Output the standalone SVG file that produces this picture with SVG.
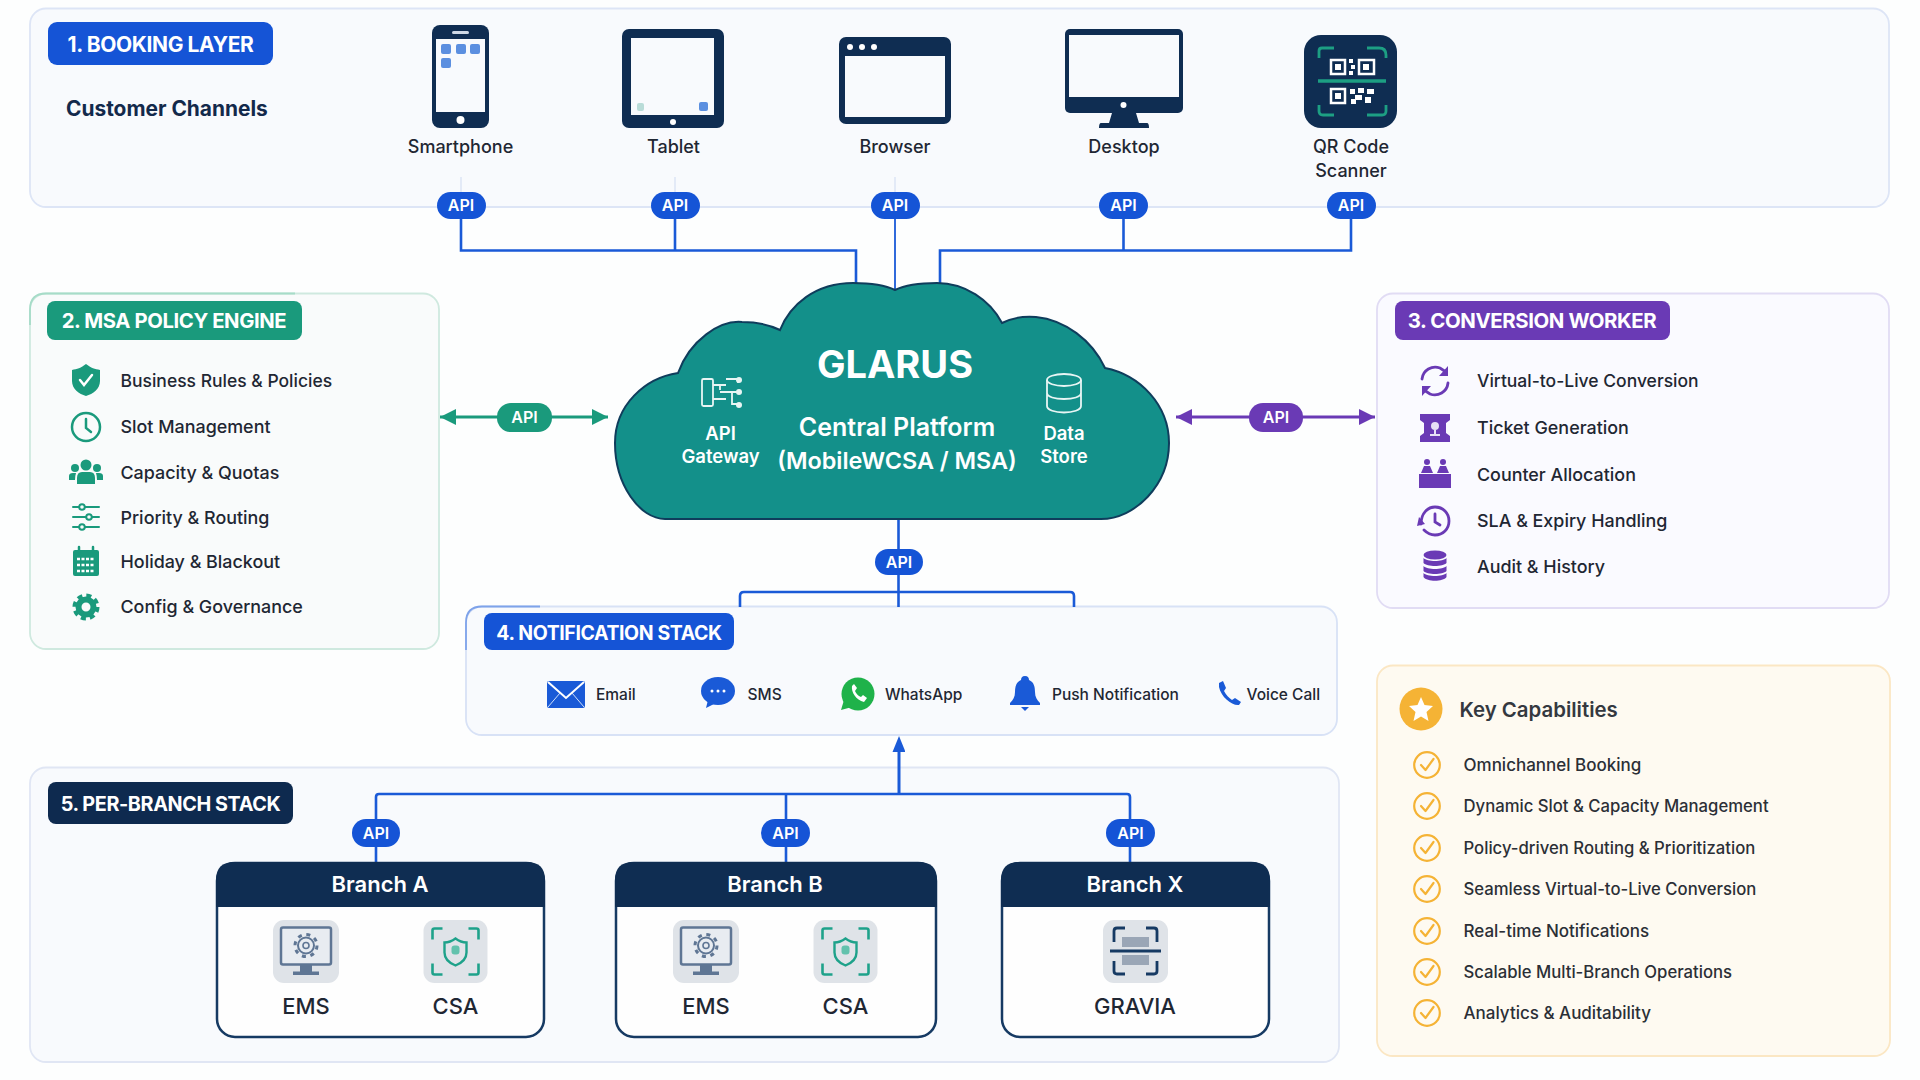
<svg xmlns="http://www.w3.org/2000/svg" xmlns:xlink="http://www.w3.org/1999/xlink" width="1920" height="1080" viewBox="0 0 1920 1080">
<style>
text{font-family:"Inter","Liberation Sans",sans-serif;fill:#1f2733;font-weight:500}
.c{text-anchor:middle}
.tag{font-size:21px;font-weight:700;fill:#fff;text-anchor:middle;letter-spacing:-.4px}
.api{font-size:16px;font-weight:600;fill:#fff;text-anchor:middle}
.ch{font-size:18px;text-anchor:middle}
.it{font-size:17.9px}
.nt{font-size:15.5px}
.kc{font-size:17px;fill:#2b2f36}
.kn{font-size:16.7px;fill:#2b2f36}
.br{font-size:22px;font-weight:600;fill:#fff;text-anchor:middle}
.sv{font-size:22px;text-anchor:middle}
.cw{fill:#fff;text-anchor:middle}
.panel{stroke-width:1.8}
.conn{fill:none;stroke:#1a5ad7;stroke-width:2.6}
.nv{fill:#0f2d52}
.g{fill:#1a9a7c}
.p{fill:#6a3ab5}
.gs{fill:none;stroke:#1a9a7c;stroke-width:2.5;stroke-linecap:round}
.ps{fill:none;stroke:#6a3ab5;stroke-width:2.8;stroke-linecap:round}
.ws{fill:none;stroke:#fff;stroke-width:2;stroke-linecap:round}
</style>
<defs>
<marker id="ah" markerWidth="14" markerHeight="17" refX="8.500" refY="16" orient="0" markerUnits="userSpaceOnUse"><path d="M2 16L8.500 0L15 16Z" transform="translate(0 0)" fill="#1a5ad7"/></marker>
<marker id="ag" markerWidth="16" markerHeight="16" refX="16" refY="8" orient="auto-start-reverse" markerUnits="userSpaceOnUse"><path d="M0 0L16 8L0 16Z" fill="#1a9a7c"/></marker>
<marker id="ap" markerWidth="16" markerHeight="16" refX="16" refY="8" orient="auto-start-reverse" markerUnits="userSpaceOnUse"><path d="M0 0L16 8L0 16Z" fill="#6a3ab5"/></marker>
<g id="ems">
<rect x="-33" y="-31.500" width="66" height="63" rx="11" fill="#dfe3e8"/>
<rect x="-25" y="-24" width="50" height="37" rx="2" fill="#e8ecf1" stroke="#5f7694" stroke-width="2.500"/>
<rect x="-6" y="13" width="12" height="8" fill="#5f7694"/>
<rect x="-13" y="20" width="26" height="3.500" fill="#5f7694"/>
<circle r="8" cy="-6" fill="none" stroke="#5f7694" stroke-width="2"/>
<circle r="11" cy="-6" fill="none" stroke="#5f7694" stroke-width="3" stroke-dasharray="4 4.640"/>
<circle r="3" cy="-6" fill="none" stroke="#5f7694" stroke-width="1.600"/>
</g>
<g id="csa">
<rect x="-32" y="-31.500" width="64" height="63" rx="11" fill="#dfe3e8"/>
<path d="M-23 -12V-21Q-23 -23 -21 -23H-13M13 -23H21Q23 -23 23 -21V-12M23 12V21Q23 23 21 23H13M-13 23H-21Q-23 23 -23 21V12" fill="none" stroke="#1ea28a" stroke-width="2.600"/>
<path d="M0 -13C-4 -10 -7 -9 -11 -9V1C-11 8 -5 12 0 14C5 12 11 8 11 1V-9C7 -9 4 -10 0 -13Z" fill="none" stroke="#1ea28a" stroke-width="2.400"/>
<rect x="-4" y="-6" width="8" height="9" rx="3" fill="#62c2ad"/>
</g>
<g id="chk"><circle r="12.800" fill="none" stroke="#f5b335" stroke-width="2.200"/><path d="M-6 0L-1.500 5L6.500 -6" fill="none" stroke="#f5b335" stroke-width="2.200" stroke-linecap="round" stroke-linejoin="round"/></g>
</defs>
<rect width="1920" height="1080" fill="#fdfefe"/>

<g id="panels">
<rect class="panel" x="30" y="8.500" width="1859" height="198.500" rx="16" fill="#f8fafd" stroke="#dde5f6"/>
<rect class="panel" x="30" y="293.500" width="409" height="355.500" rx="16" fill="#f9fbfb" stroke="#cfe9df"/>
<rect class="panel" x="1377" y="293.500" width="512" height="314.500" rx="16" fill="#fafaff" stroke="#e1dcf4"/>
<rect class="panel" x="466" y="606.500" width="871" height="128.500" rx="16" fill="#f8fafd" stroke="#d8e2f6"/>
<rect class="panel" x="30" y="767.500" width="1309" height="294.500" rx="16" fill="#f8fafd" stroke="#e0e6f4"/>
<rect class="panel" x="1377" y="665.500" width="513" height="390.500" rx="16" fill="#fefaf1" stroke="#fbe7c4"/>
<path d="M30 325V309.500Q30 293.500 46 293.500H295" fill="none" stroke="#a6dcc8" stroke-width="1.800"/>
<path d="M466 650V622.500Q466 606.500 482 606.500H540" fill="none" stroke="#7ea3ea" stroke-width="1.800"/>
</g>

<g id="connectors">
<path d="M461 177V192M675 177V192M895 177V192" stroke="#d6e0f4" stroke-width="1.200" fill="none"/>
<path class="conn" d="M461 219V250.500H856V292"/>
<path class="conn" d="M675 219V250.500"/>
<path class="conn" d="M895 219V292" style="stroke-width:1.800"/>
<path class="conn" d="M1351 219V250.500H940V292"/>
<path class="conn" d="M1123.500 219V250.500"/>
<path d="M440 417H608" fill="none" stroke="#1a9a7c" stroke-width="3" marker-start="url(#ag)" marker-end="url(#ag)"/>
<path d="M1176 417H1375" fill="none" stroke="#6a3ab5" stroke-width="3" marker-start="url(#ap)" marker-end="url(#ap)"/>
<path class="conn" d="M898.500 518V607"/>
<path class="conn" d="M740 607V596Q740 592 744 592H1070Q1074 592 1074 596V607"/>
<path class="conn" d="M899 794V752" marker-end="url(#ah)" style="stroke-width:3"/>
<path class="conn" d="M376 862V797Q376 794 379 794H1127Q1130 794 1130 797V862"/>
<path class="conn" d="M786 794V862"/>
</g>

<g id="booking-layer">
<rect x="48" y="22" width="225" height="43" rx="9" fill="#1554d6"/>
<text class="tag" x="160.500" y="52">1. BOOKING LAYER</text>
<text x="66" y="116" style="font-size:20.900px;font-weight:700;fill:#13294b">Customer Channels</text>
</g>

<g id="smartphone">
<rect x="432" y="25" width="57" height="103" rx="8" class="nv"/>
<rect x="436" y="39" width="49" height="73" fill="#f8fafd"/>
<rect x="452" y="31" width="17" height="3" rx="1.500" fill="#cfd8e6"/>
<circle cx="460.500" cy="120" r="4" fill="#fff"/>
<g fill="#5b8fe0"><rect x="441" y="44" width="10" height="10" rx="2"/><rect x="456" y="44" width="10" height="10" rx="2"/><rect x="470" y="44" width="10" height="10" rx="2"/><rect x="441" y="58" width="10" height="10" rx="2"/></g>
<text class="ch" x="460.500" y="153">Smartphone</text>
</g>
<g id="tablet">
<rect x="622" y="29" width="102" height="99" rx="7" class="nv"/>
<rect x="631" y="38" width="83" height="77" fill="#f8fafd"/>
<circle cx="673" cy="122" r="3" fill="#fff"/>
<rect x="637" y="103" width="7" height="8" rx="2" fill="#b9dcd8"/>
<rect x="699" y="102" width="9" height="9" rx="2" fill="#5b8fe0"/>
<text class="ch" x="673.500" y="153">Tablet</text>
</g>
<g id="browser">
<rect x="839" y="37" width="112" height="87" rx="7" class="nv"/>
<rect x="845" y="56" width="100" height="61" fill="#f8fafd"/>
<g fill="#fff"><circle cx="850" cy="47" r="3"/><circle cx="862" cy="47" r="3"/><circle cx="874" cy="47" r="3"/></g>
<text class="ch" x="895" y="153">Browser</text>
</g>
<g id="desktop">
<rect x="1065" y="29" width="118" height="84" rx="5" class="nv"/>
<rect x="1069" y="35" width="110" height="62" fill="#f8fafd"/>
<circle cx="1123.500" cy="105" r="3" fill="#fff"/>
<path d="M1112 113H1136L1139 123H1147Q1149 123 1149 128H1099Q1099 123 1101 123H1109Z" class="nv"/>
<text class="ch" x="1124" y="153">Desktop</text>
</g>
<g id="qr-code-scanner">
<rect x="1304" y="35" width="93" height="93" rx="17" class="nv"/>
<path d="M1319 58V51Q1319 48 1322 48H1334M1367 48H1379Q1386 48 1386 55V58M1386 105V111Q1386 115 1382 115H1367M1334 115H1323Q1319 115 1319 111V105" fill="none" stroke="#1d9f83" stroke-width="2.800"/>
<path d="M1318 81H1386" stroke="#1d9f83" stroke-width="3.500"/>
<g fill="none" stroke="#fff" stroke-width="2.500"><rect x="1331" y="60" width="14" height="14"/><rect x="1359" y="60" width="15" height="14"/><rect x="1331" y="89" width="14" height="14"/></g>
<g fill="#fff"><rect x="1335" y="64" width="6" height="6"/><rect x="1363" y="64" width="6" height="6"/><rect x="1335" y="93" width="6" height="6"/>
<rect x="1349" y="59" width="4" height="4"/><rect x="1351" y="65" width="4" height="4"/><rect x="1349" y="71" width="4" height="4"/>
<rect x="1350" y="89" width="5" height="5"/><rect x="1358" y="88" width="6" height="5"/><rect x="1367" y="89" width="7" height="5"/><rect x="1355" y="95" width="7" height="5"/><rect x="1365" y="97" width="6" height="6"/><rect x="1351" y="99" width="5" height="5"/></g>
<text class="ch" x="1351" y="153">QR Code</text>
<text class="ch" x="1351" y="177">Scanner</text>
</g>

<g id="msa-policy-engine">
<rect x="47" y="301" width="255" height="39" rx="8" class="g"/>
<text class="tag" x="174" y="328" style="font-size:20.300px">2. MSA POLICY ENGINE</text>
<g transform="translate(86 380)"><path class="g" d="M0 -16C-5 -12 -9 -11 -14 -10V1C-14 9 -7 14 0 16C7 14 14 9 14 1V-10C9 -11 5 -12 0 -16Z"/><path class="ws" style="stroke-width:2.500" d="M-6 0L-2 5L6 -5"/></g>
<text class="it" x="120.500" y="387" style="font-size:17.500px">Business Rules &amp; Policies</text>
<g transform="translate(86 427)"><circle r="14" class="gs"/><path class="gs" d="M0 -8V1L5 5"/></g>
<text class="it" x="120.500" y="433">Slot Management</text>
<g transform="translate(86 473)" class="g"><circle cy="-8" r="5.500"/><circle cx="-11" cy="-5" r="4"/><circle cx="11" cy="-5" r="4"/><path d="M-9 11V5Q-9 -1 -4 -1H4Q9 -1 9 5V11Z"/><path d="M-17 7V3Q-17 0 -13 0H-10Q-11 3 -11 7ZM17 7V3Q17 0 13 0H10Q11 3 11 7Z"/></g>
<text class="it" x="120.500" y="479">Capacity &amp; Quotas</text>
<g transform="translate(86 517)"><path class="gs" style="stroke-width:2" d="M-13 -10H13M-13 0H13M-13 10H13"/><g fill="#f9fbfb" stroke="#1a9a7c" stroke-width="2"><circle cx="-4" cy="-10" r="2.800"/><circle cx="3" r="2.800"/><circle cx="-4" cy="10" r="2.800"/></g></g>
<text class="it" x="120.500" y="524">Priority &amp; Routing</text>
<g transform="translate(86 562)"><rect x="-13" y="-12" width="26" height="26" rx="2" class="g"/><path d="M-7 -15V-10M7 -15V-10" class="gs"/><path d="M-9 -3H9M-9 3H9M-9 9H9" stroke="#fff" stroke-width="2.500" stroke-dasharray="3 1.500"/></g>
<text class="it" x="120.500" y="568">Holiday &amp; Blackout</text>
<g transform="translate(86 607)" fill="none" stroke="#1a9a7c"><circle r="7.500" stroke-width="6"/><circle r="11.500" stroke-width="4" stroke-dasharray="5 4.030"/></g>
<text class="it" x="120.500" y="613">Config &amp; Governance</text>
<rect x="497" y="403" width="55" height="29" rx="14" class="g"/>
<text class="api" x="524.500" y="423">API</text>
</g>

<g id="glarus-central-platform">
<path d="M678 373C690 340 720 320 742 322C755 322 770 325 780 330C790 305 815 283 853 283C870 283 885 285 895 290C905 285 920 283 937 283C965 283 990 300 1002 323C1012 318 1025 316 1036 317C1065 320 1092 340 1105 368C1140 375 1169 405 1169 443C1169 485 1135 519 1101 519H665C640 519 615 485 615 443C615 405 645 378 678 373Z" fill="#13908a" stroke="#0f3d5c" stroke-width="2"/>
<text class="cw" x="895" y="378" style="font-size:38px;font-weight:700">GLARUS</text>
<text class="cw" x="897" y="436" style="font-size:25px;font-weight:600">Central Platform</text>
<text class="cw" x="897" y="469" style="font-size:23.400px;font-weight:600">(MobileWCSA / MSA)</text>
<text class="cw" x="720.500" y="440" style="font-size:18.500px;font-weight:600">API</text>
<text class="cw" x="720.500" y="463" style="font-size:18.500px;font-weight:600">Gateway</text>
<text class="cw" x="1064" y="440" style="font-size:18.500px;font-weight:600">Data</text>
<text class="cw" x="1064" y="463" style="font-size:18.500px;font-weight:600">Store</text>
<g id="api-gateway-icon" fill="none" stroke="#e8f5f4" stroke-width="1.800"><rect x="702" y="379" width="11" height="27" rx="1.500"/><path d="M713 385H726M720 385V390M713 399H726M720 392H726M726 392H733M726 379H738V383M738 392H722M732 392V404H738"/><g fill="#e8f5f4" stroke="none"><circle cx="739" cy="380" r="3"/><circle cx="739" cy="392" r="3"/><circle cx="739" cy="405" r="3"/></g></g>
<g id="data-store-icon" fill="none" stroke="#e8f5f4" stroke-width="1.800"><ellipse cx="1064" cy="380" rx="17" ry="6"/><path d="M1047 380V406C1047 410 1055 412.500 1064 412.500C1073 412.500 1081 410 1081 406V380M1047 393C1047 397 1055 399 1064 399C1073 399 1081 397 1081 393"/></g>
</g>

<g id="conversion-worker">
<rect x="1395" y="301" width="275" height="39" rx="8" class="p"/>
<text class="tag" x="1532" y="328" style="font-size:20.400px">3. CONVERSION WORKER</text>
<g transform="translate(1435 381)"><path class="ps" d="M-13 -2C-12 -11 -3 -16 5 -13L11 -9M13 2C12 11 3 16 -5 13L-11 9"/><path class="p" d="M13 -15V-5H4ZM-13 15V5H-4Z"/></g>
<text class="it" x="1477" y="387" style="font-size:17.500px">Virtual-to-Live Conversion</text>
<g transform="translate(1435 428)"><path class="p" d="M-15 -14H15V-8L11 -5V5L15 8V14H-15V8L-11 5V-5L-15 -8Z"/><circle cy="-2" r="4" fill="#e7e0f5"/><path d="M-5 7H5M0 2V8" stroke="#e7e0f5" stroke-width="2"/></g>
<text class="it" x="1477" y="434">Ticket Generation</text>
<g transform="translate(1435 474)" class="p"><circle cx="-8" cy="-12" r="3"/><circle cx="8" cy="-12" r="3"/><path d="M-14 -1L-11 -8H-5L-2 -1ZM2 -1L5 -8H11L14 -1Z"/><rect x="-16" y="0" width="32" height="14"/></g>
<text class="it" x="1477" y="481">Counter Allocation</text>
<g transform="translate(1435 521)"><path class="ps" d="M-14 3C-14 -8 -7 -14 0 -14C8 -14 14 -8 14 0C14 8 8 14 0 14C-5 14 -8 12 -11 9"/><path class="ps" d="M0 -7V1L5 4"/><path class="p" d="M-16 -4L-10 3L-18 5Z"/></g>
<text class="it" x="1477" y="527">SLA &amp; Expiry Handling</text>
<g transform="translate(1435 566)" class="p"><ellipse cy="-11" rx="11.500" ry="4.500"/><path d="M-11.500 -8C-8 -4 8 -4 11.500 -8V-3C8 1 -8 1 -11.500 -3ZM-11.500 0C-8 4 8 4 11.500 0V5C8 9 -8 9 -11.500 5ZM-11.500 7C-8 11 8 11 11.500 7V11C8 16 -8 16 -11.500 11Z"/></g>
<text class="it" x="1477" y="573">Audit &amp; History</text>
<rect x="1249" y="403" width="54" height="29" rx="14" class="p"/>
<text class="api" x="1276" y="423">API</text>
</g>

<g id="notification-stack">
<rect x="484" y="613" width="250" height="37" rx="8" fill="#1554d6"/>
<text class="tag" x="609" y="640" style="font-size:19.500px">4. NOTIFICATION STACK</text>
<g id="email"><rect x="547" y="681" width="38" height="27" rx="2" fill="#1a5ad7"/><path d="M548 682L566 698L584 682" fill="none" stroke="#fff" stroke-width="2"/><path d="M548 707L560 693M584 707L572 693" fill="none" stroke="#cfe0fb" stroke-width="1"/><text class="nt" x="596" y="699.500">Email</text></g>
<g id="sms"><ellipse cx="718" cy="691" rx="17" ry="14" fill="#1a5ad7"/><path d="M708 700L706 708L716 703Z" fill="#1a5ad7"/><g fill="#fff"><circle cx="712" cy="691" r="1.500"/><circle cx="718" cy="691" r="1.500"/><circle cx="724" cy="691" r="1.500"/></g><text class="nt" x="747.500" y="699.500">SMS</text></g>
<g id="whatsapp"><circle cx="858" cy="694" r="16.500" fill="#1fb24a"/><path d="M844 700L841 710L852 707Z" fill="#1fb24a"/><path d="M852 686C851 692 856 700 864 702L867 698L863 695L861 697C858 696 856 693 855 691L857 688L854 684Z" fill="#fff"/><text class="nt" x="885" y="699.500">WhatsApp</text></g>
<g id="push-notification"><path d="M1025 676C1028 676 1029 678 1029 680C1034 682 1035 687 1035 692C1035 697 1037 700 1040 703V705H1010V703C1013 700 1015 697 1015 692C1015 687 1016 682 1021 680C1021 678 1022 676 1025 676Z" fill="#1a5ad7"/><path d="M1021 707H1029L1025 711Z" fill="#1a5ad7"/><text class="nt" x="1052" y="699.500">Push Notification</text></g>
<g id="voice-call"><path d="M1219 683L1223 681L1226 688L1224 691C1226 695 1229 698 1232 700L1235 698L1241 702L1239 705C1232 706 1221 697 1219 687Z" fill="#1a5ad7"/><text class="nt" x="1246.500" y="699.500">Voice Call</text></g>
</g>

<g id="per-branch-stack">
<rect x="48" y="782" width="245" height="42" rx="8" fill="#0e2a4f"/>
<text class="tag" x="170.500" y="811" style="font-size:19.800px">5. PER-BRANCH STACK</text>
</g>
<g id="branch-a">
<rect x="217" y="863" width="327" height="174" rx="18" fill="#fefefe" stroke="#163a63" stroke-width="2.500"/>
<path d="M216 907V880Q216 862 234 862H527Q545 862 545 880V907Z" class="nv"/>
<text class="br" x="380" y="892">Branch A</text>
<use xlink:href="#ems" href="#ems" x="306" y="951.500"/><use xlink:href="#csa" href="#csa" x="455.500" y="951.500"/>
<text class="sv" x="306" y="1014">EMS</text><text class="sv" x="455.500" y="1014">CSA</text>
</g>
<g id="branch-b">
<rect x="616" y="863" width="320" height="174" rx="18" fill="#fefefe" stroke="#163a63" stroke-width="2.500"/>
<path d="M615 907V880Q615 862 633 862H919Q937 862 937 880V907Z" class="nv"/>
<text class="br" x="775" y="892">Branch B</text>
<use xlink:href="#ems" href="#ems" x="706" y="951.500"/><use xlink:href="#csa" href="#csa" x="845.500" y="951.500"/>
<text class="sv" x="706" y="1014">EMS</text><text class="sv" x="845.500" y="1014">CSA</text>
</g>
<g id="branch-x">
<rect x="1002" y="863" width="267" height="174" rx="18" fill="#fefefe" stroke="#163a63" stroke-width="2.500"/>
<path d="M1001 907V880Q1001 862 1019 862H1252Q1270 862 1270 880V907Z" class="nv"/>
<text class="br" x="1135" y="892">Branch X</text>
<rect x="1103" y="920" width="65" height="63" rx="11" fill="#dfe3e8"/>
<path d="M1114 942V931Q1114 928 1117 928H1125M1146 928H1154Q1157 928 1157 931V942M1157 961V971Q1157 974 1154 974H1146M1125 974H1117Q1114 974 1114 971V961" fill="none" stroke="#163a63" stroke-width="2.800"/>
<rect x="1122" y="937" width="27" height="10" fill="#9aa6b6"/><rect x="1122" y="955" width="27" height="10" fill="#9aa6b6"/>
<path d="M1110 951H1161" stroke="#163a63" stroke-width="3"/>
<text class="sv" x="1135" y="1014">GRAVIA</text>
</g>
<g id="api-badges">
<g fill="#1554d6">
<rect x="437" y="192" width="49" height="27" rx="13.500"/><rect x="651" y="192" width="49" height="27" rx="13.500"/><rect x="871" y="192" width="49" height="27" rx="13.500"/><rect x="1099" y="192" width="49" height="27" rx="13.500"/><rect x="1327" y="192" width="49" height="27" rx="13.500"/>
<rect x="875" y="549" width="48" height="26" rx="13"/>
<rect x="352" y="819" width="48" height="28" rx="14"/><rect x="761" y="819" width="49" height="28" rx="14"/><rect x="1106" y="819" width="49" height="28" rx="14"/>
</g>
<text class="api" x="461" y="211">API</text><text class="api" x="675" y="211">API</text><text class="api" x="895" y="211">API</text><text class="api" x="1123.500" y="211">API</text><text class="api" x="1351" y="211">API</text>
<text class="api" x="899" y="568">API</text>
<text class="api" x="376" y="839">API</text><text class="api" x="785.500" y="839">API</text><text class="api" x="1130.500" y="839">API</text>
</g>

<g id="key-capabilities">
<circle cx="1421" cy="709" r="21.500" fill="#f5b335"/>
<path d="M1421 697L1424.500 705L1433 706L1426.500 712L1428.500 721L1421 716.500L1413.500 721L1415.500 712L1409 706L1417.500 705Z" fill="#fff"/>
<text x="1459.500" y="717" style="font-size:20.400px;font-weight:600;fill:#34383f">Key Capabilities</text>
<use xlink:href="#chk" href="#chk" x="1427" y="765"/><text class="kc" x="1463.500" y="771">Omnichannel Booking</text>
<use xlink:href="#chk" href="#chk" x="1427" y="806"/><text class="kn" x="1463.500" y="812">Dynamic Slot &amp; Capacity Management</text>
<use xlink:href="#chk" href="#chk" x="1427" y="848"/><text class="kn" x="1463.500" y="854">Policy-driven Routing &amp; Prioritization</text>
<use xlink:href="#chk" href="#chk" x="1427" y="889"/><text class="kn" x="1463.500" y="895">Seamless Virtual-to-Live Conversion</text>
<use xlink:href="#chk" href="#chk" x="1427" y="931"/><text class="kc" x="1463.500" y="937">Real-time Notifications</text>
<use xlink:href="#chk" href="#chk" x="1427" y="972"/><text class="kn" x="1463.500" y="978">Scalable Multi-Branch Operations</text>
<use xlink:href="#chk" href="#chk" x="1427" y="1013"/><text class="kc" x="1463.500" y="1019">Analytics &amp; Auditability</text>
</g>
</svg>
